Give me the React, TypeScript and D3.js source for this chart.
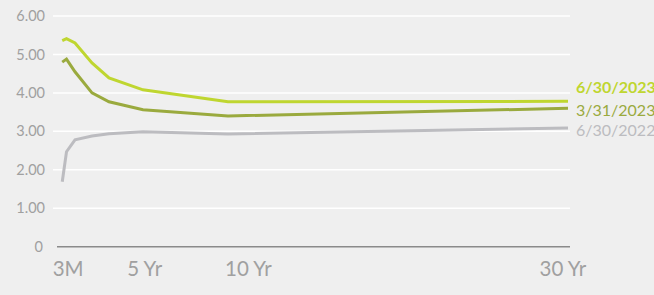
import React from "react";
import * as d3 from "d3";

const maturities = [0.25, 0.5, 1, 2, 3, 5, 10, 30];
const seriesNames = ["6/30/2023", "3/31/2023", "6/30/2022"];
const jun2023 = [5.36, 5.41, 5.3, 4.78, 4.39, 4.08, 3.77, 3.78];
const mar2023 = [4.8, 4.88, 4.55, 4.0, 3.77, 3.56, 3.4, 3.6];
const jun2022 = [1.69, 2.47, 2.78, 2.88, 2.94, 2.99, 2.93, 3.09];
const yTicks = [0, 1, 2, 3, 4, 5, 6];
const xTickLabels = ["3M", "5 Yr", "10 Yr", "30 Yr"];
const xTickAt = [0.6, 5.1, 11.2, 29.7];

const W = 654;
const H = 295;

export default function App() {
  const x = d3.scaleLinear().domain([0, 30]).range([58, 568]);
  const y = d3.scaleLinear().domain([0, 6]).range([246.7, 16]);
  const line = d3
    .line<number>()
    .x((_, i) => x(maturities[i]))
    .y((d) => y(d));

  const series = [
    { name: seriesNames[0], values: jun2023, color: "#bfd630", weight: 700, dy: -8 },
    { name: seriesNames[1], values: mar2023, color: "#9aaa3e", weight: 400, dy: 8 },
    { name: seriesNames[2], values: jun2022, color: "#bcbcc0", weight: 400, dy: 8 },
  ];

  return (
    <svg
      width={W}
      height={H}
      style={{ position: "absolute", left: 0, top: 0, display: "block" }}
      fontFamily="Lato, 'Noto Sans', sans-serif"
    >
      <rect x={0} y={0} width={W} height={H} fill="#efefef" />
      {yTicks.map((t) => (
        <g key={t}>
          {t > 0 && (
            <line x1={53} x2={570} y1={y(t)} y2={y(t)} stroke="#ffffff" strokeWidth={1.5} />
          )}
          <text
            x={t === 0 ? 43 : 45}
            y={y(t)}
            dy="0.35em"
            textAnchor="end"
            fontSize={14.5}
            fill="#a0a0a0"
          >
            {t === 0 ? "0" : t.toFixed(2)}
          </text>
        </g>
      ))}
      <line x1={57} x2={570} y1={y(0)} y2={y(0)} stroke="#8a8a8a" strokeWidth={1.5} />
      {xTickLabels.map((l, i) => (
        <text
          key={l}
          x={x(xTickAt[i])}
          y={276}
          textAnchor="middle"
          fontSize={20.5}
          fill="#a0a0a0"
        >
          {l}
        </text>
      ))}
      {series
        .slice()
        .reverse()
        .map((s) => (
          <path
            key={s.name}
            d={line(s.values) || ""}
            fill="none"
            stroke={s.color}
            strokeWidth={3}
            strokeLinejoin="miter"
          />
        ))}
      {series.map((s) => (
        <text
          key={s.name + "l"}
          x={576}
          y={y(s.values[s.values.length - 1]) + s.dy}
          fontSize={16}
          fontWeight={s.weight}
          fill={s.color}
        >
          {s.name}
        </text>
      ))}
    </svg>
  );
}
